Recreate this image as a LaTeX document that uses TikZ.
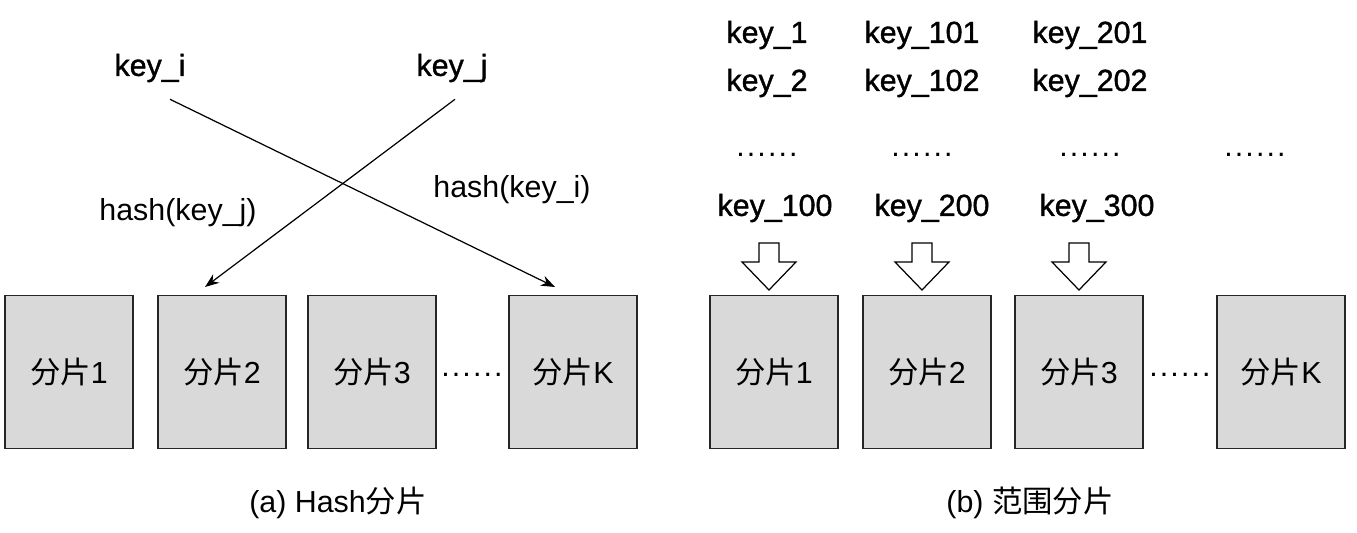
\documentclass[tikz,border=0pt]{standalone}
\usepackage{fontspec}
\setmainfont{Liberation Sans}
\newfontfamily\cjk{Noto Sans CJK SC}
\newfontfamily\keyfont[FakeBold=1.2]{Liberation Sans}
\usepackage{tikz}
\usetikzlibrary{arrows.meta, calc}

\newcommand{\txtsize}{\fontsize{17.3}{20}\selectfont}
\newcommand{\sixdots}{.\kern1.2pt.\kern1.2pt.\kern1.2pt.\kern1.2pt.\kern1.2pt.}

\tikzset{
    shard/.style={draw=black!85, fill=black!15, line width=0.6pt, minimum width=2.56cm, minimum height=3.06cm, inner sep=0pt},
    keylbl/.style={font=\txtsize\keyfont, inner sep=1pt},
    link/.style={->, line width=0.7pt},
    downarrow/.pic={
        \draw[fill=white, line width=0.7pt] (-10,-47) -- (10,-47) -- (10,-28) -- (27,-28)
            -- (0,0) -- (-27,-28) -- (-10,-28) -- cycle;
    }
}

\begin{document}
\begin{tikzpicture}[x=0.02cm, y=-0.02cm, >={Stealth[length=8pt, width=6pt]}, font=\txtsize]

    \useasboundingbox (0,0) rectangle (1357,532);

    % --- LEFT SIDE: HASH SHARDING ---
    \node[shard] (h1) at (69,372) {{\cjk 分片}1};
    \node[shard] (h2) at (222,372) {{\cjk 分片}2};
    \node[shard] (h3) at (372,372) {{\cjk 分片}3};
    \node (hdots) at (472,375) {\sixdots};
    \node[shard] (hK) at (573,372) {{\cjk 分片}K};

    % Keys and their crossing hash arrows
    \node[keylbl] (ki) at (150,68) {key\_i};
    \node[keylbl] (kj) at (452,68) {key\_j};
    \draw[link] ($(ki.south)+(20,15)$) -- ($(hK.north)+(-18,-8)$);
    \draw[link] ($(kj.south)+(3,15)$) -- ($(h2.north)+(-17,-8)$);
    \node (hashj) at (178,213) {hash(key\_j)};
    \node (hashi) at (512,190) {hash(key\_i)};

    \node (capa) at (338,503) {(a) Hash{\cjk 分片}};

    % --- RIGHT SIDE: RANGE SHARDING ---
    \node[shard] (r1) at (774,372) {{\cjk 分片}1};
    \node[shard] (r2) at (927,372) {{\cjk 分片}2};
    \node[shard] (r3) at (1079,372) {{\cjk 分片}3};
    \node (rdots) at (1180,375) {\sixdots};
    \node[shard] (rK) at (1281,372) {{\cjk 分片}K};

    % Key ranges per shard
    \node[keylbl] (k1) at (767,35) {key\_1};
    \node[keylbl] (k2) at (767,83) {key\_2};
    \node (d1) at (767,155) {\sixdots};
    \node[keylbl] (k100) at (775,208) {key\_100};

    \node[keylbl] (k101) at (922,35) {key\_101};
    \node[keylbl] (k102) at (922,83) {key\_102};
    \node (d2) at (922,155) {\sixdots};
    \node[keylbl] (k200) at (932,208) {key\_200};

    \node[keylbl] (k201) at (1090,35) {key\_201};
    \node[keylbl] (k202) at (1090,83) {key\_202};
    \node (d3) at (1090,155) {\sixdots};
    \node[keylbl] (k300) at (1097,208) {key\_300};

    \node (d4) at (1255,155) {\sixdots};

    % Hollow arrows into the shards
    \pic at ($(r1.north)+(-5,-5)$) {downarrow};
    \pic at ($(r2.north)+(-5,-5)$) {downarrow};
    \pic at ($(r3.north)+(0,-5)$) {downarrow};

    \node (capb) at (1030,503) {(b) {\cjk 范围分片}};

\end{tikzpicture}
\end{document}
